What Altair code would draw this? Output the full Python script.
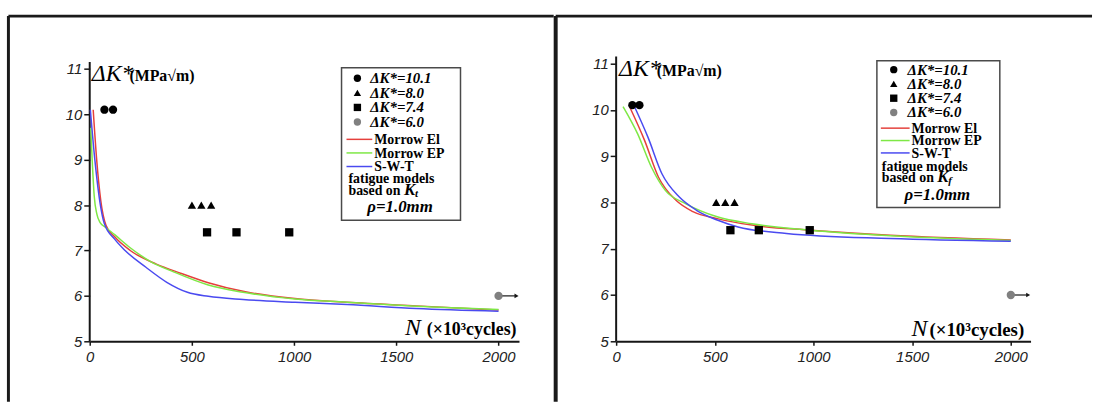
import altair as alt
import pandas as pd

# ---------------- data ----------------
N_TICKS = [0, 500, 1000, 1500, 2000]
K_TICKS = [5, 6, 7, 8, 9, 10, 11]

point_labels = ["ΔK*=10.1", "ΔK*=8.0", "ΔK*=7.4", "ΔK*=6.0"]
point_shapes = ["circle", "triangle-up", "square", "circle"]
point_colors = ["#000000", "#000000", "#000000", "#808080"]
point_levels = [10.1, 8.0, 7.4, 6.0]

model_names = ["Morrow El", "Morrow EP", "S-W-T"]
model_colors = ["#e5403c", "#7ee845", "#4a4af0"]

# left panel (models based on Kt)
L_circ_x = [72, 114]
L_tri_x = [500, 546, 594]
L_sq_x = [574, 718, 976]
L_run_x = [2000]
L_red_x = [17, 34, 54, 80, 122, 198, 326, 444, 580, 750, 1004, 1259, 1598, 2000]
L_red_y = [10.1, 9.0, 8.1, 7.55, 7.3, 7.0, 6.7, 6.5, 6.29, 6.1, 5.94, 5.86, 5.78, 5.69]
L_grn_x = [5, 12, 22, 35, 50, 80, 122, 198, 300, 410, 580, 750, 1004, 1259, 1598, 2000]
L_grn_y = [9.7, 9.0, 8.2, 7.8, 7.62, 7.5, 7.35, 7.06, 6.75, 6.53, 6.24, 6.08, 5.93, 5.86, 5.77, 5.70]
L_blu_x = [3, 25, 54, 71, 122, 173, 275, 377, 478, 580, 750, 1004, 1259, 1598, 2000]
L_blu_y = [10.1, 9.0, 7.95, 7.6, 7.25, 7.0, 6.63, 6.3, 6.08, 5.99, 5.92, 5.86, 5.81, 5.72, 5.66]

# right panel (models based on Kf)
R_circ_x = [82, 118]
R_tri_x = [507, 553, 600]
R_sq_x = [579, 723, 981]
R_run_x = [2000]
R_red_x = [70, 144, 214, 302, 389, 512, 688, 986, 1389, 2000]
R_red_y = [10.05, 9.34, 8.55, 8.05, 7.8, 7.65, 7.51, 7.4, 7.29, 7.19]
R_grn_x = [35, 109, 179, 249, 354, 512, 688, 986, 1389, 2000]
R_grn_y = [10.07, 9.48, 8.76, 8.26, 7.97, 7.69, 7.54, 7.4, 7.28, 7.18]
R_blu_x = [95, 161, 232, 319, 407, 512, 618, 863, 1389, 2000]
R_blu_y = [10.05, 9.41, 8.62, 8.12, 7.83, 7.62, 7.47, 7.33, 7.22, 7.16]

RUNOUT_END = 2088
AXIS_TOP = 11.15

SERIF = "Liberation Serif"
SANS = "Liberation Sans"
INK = "#161616"


def points_df(cx, tx, sx, rx):
    rows = []
    for lab, lev, xs in zip(point_labels, point_levels, [cx, tx, sx, rx]):
        for v in xs:
            rows.append({"N": v, "K": lev, "label": lab})
    return pd.DataFrame(rows)


def lines_df(series):
    rows = []
    for name, (xs, ys) in zip(model_names, series):
        for a, b in zip(xs, ys):
            rows.append({"N": a, "K": b, "model": name})
    return pd.DataFrame(rows)


dummy = pd.DataFrame({"d": [0]})


def txt(t):
    return alt.Chart(dummy).mark_text(
        text=t["text"], align=t.get("align", "left"), baseline=t.get("baseline", "alphabetic"),
        font=t.get("font", SERIF), fontSize=t["size"], fontStyle=t.get("style", "normal"),
        fontWeight=t.get("weight", "bold"), color="black").encode(
        x=alt.value(t["x"]), y=alt.value(t["y"]))


def panel(pts, lns, ytop, width, height, lay):
    xs = alt.Scale(domain=[0, 2100], nice=False, zero=False)
    ys = alt.Scale(domain=[5, ytop], nice=False, zero=False)
    common = dict(title=None, grid=False, labelFlush=False, labelFont=SANS, labelFontStyle="italic",
                  labelFontSize=15, labelColor="#222", domainColor=INK, domainWidth=2,
                  tickColor=INK, tickWidth=1.5, format="d")
    xax = alt.Axis(values=N_TICKS, tickSize=4, labelPadding=4, domain=True, **common)
    yax = alt.Axis(values=K_TICKS, tickSize=6, labelPadding=2, domain=False, **common)

    def X(f):
        return alt.X(f, type="quantitative", scale=xs, axis=xax)

    def Y(f):
        return alt.Y(f, type="quantitative", scale=ys, axis=yax)

    layers = []
    # frame lines of the figure
    for r in lay["frame"]:
        enc = {k: alt.value(v) for k, v in r["enc"].items()}
        layers.append(alt.Chart(dummy).mark_rule(color="#1a1a1a", strokeWidth=r["w"]).encode(**enc))

    # legend box
    bx = lay["box"]
    layers.append(alt.Chart(dummy).mark_rect(fill="white", stroke="#4a4a4a", strokeWidth=1.5).encode(
        x=alt.value(bx[0]), x2=alt.value(bx[1]), y=alt.value(bx[2]), y2=alt.value(bx[3])))

    # y axis line
    yline = pd.DataFrame({"N": [0], "K0": [5], "K1": [AXIS_TOP]})
    layers.append(alt.Chart(yline).mark_rule(color=INK, strokeWidth=2).encode(
        x=X("N"), y=Y("K0"), y2=alt.Y2("K1")))

    # model curves
    layers.append(alt.Chart(lns).mark_line(strokeWidth=1.5, interpolate="monotone").encode(
        x=X("N"), y=Y("K"),
        stroke=alt.Stroke("model:N", scale=alt.Scale(domain=model_names, range=model_colors),
                          legend=None),
        order=alt.Order("N:Q")))

    # run-out arrow
    run = pd.DataFrame({"N": [2000], "N2": [RUNOUT_END], "K": [6.0]})
    layers.append(alt.Chart(run).mark_rule(color=INK, strokeWidth=1.2).encode(
        x=X("N"), x2=alt.X2("N2"), y=Y("K")))
    layers.append(alt.Chart(run).mark_point(shape="triangle-right", filled=True, color=INK, size=22,
                                            opacity=1).encode(x=X("N2"), y=Y("K")))

    # experimental points
    layers.append(alt.Chart(pts).mark_point(filled=True, size=70, opacity=1).encode(
        x=X("N"), y=Y("K"),
        shape=alt.Shape("label:N", scale=alt.Scale(domain=point_labels, range=point_shapes), legend=None),
        fill=alt.Fill("label:N", scale=alt.Scale(domain=point_labels, range=point_colors), legend=None)))

    # legend entries (inside the box)
    lg = lay["leg"]
    for lab, shp, col, py in zip(point_labels, point_shapes, point_colors, lg["prow"]):
        layers.append(alt.Chart(dummy).mark_point(shape=shp, filled=True, color=col, size=55,
                                                  opacity=1).encode(
            x=alt.value(lg["psym"]), y=alt.value(py)))
        layers.append(txt({"text": lab, "x": lg["plab"], "y": py, "size": 15, "style": "italic",
                           "baseline": "middle"}))
    for lab, col, py in zip(model_names, model_colors, lg["lrow"]):
        layers.append(alt.Chart(dummy).mark_rule(color=col, strokeWidth=1.5).encode(
            x=alt.value(lg["lx"][0]), x2=alt.value(lg["lx"][1]), y=alt.value(py)))
        layers.append(txt({"text": lab, "x": lg["llab"], "y": py + 1, "size": 14,
                           "baseline": "middle"}))

    # texts
    for t in lay["texts"]:
        layers.append(txt(t))

    return alt.layer(*layers).properties(width=width, height=height)


left_lay = {
    "frame": [
        {"enc": {"x": -82, "y": -41, "y2": 348}, "w": 3},
        {"enc": {"x": -82, "x2": 468, "y": -41}, "w": 3},
    ],
    "box": [254, 374, 11, 165],
    "leg": {"psym": 270, "plab": 283, "prow": [21.7, 36.4, 51.1, 65.8],
            "lx": [259, 285], "llab": 287, "lrow": [83.3, 97.0, 110.7]},
    "texts": [
        {"text": "ΔK*", "x": 2, "y": 24, "size": 24, "style": "italic", "weight": "normal"},
        {"text": "(MPa√m)", "x": 40, "y": 24, "size": 16},
        {"text": "N", "x": 318, "y": 281, "size": 24, "style": "italic", "weight": "normal"},
        {"text": "(×10³cycles)", "x": 340, "y": 281, "size": 18},
        {"text": "fatigue models", "x": 261, "y": 123, "size": 14, "baseline": "middle"},
        {"text": "based on", "x": 261, "y": 135, "size": 14, "baseline": "middle"},
        {"text": "K", "x": 317, "y": 134, "size": 17, "style": "italic", "baseline": "middle"},
        {"text": "t", "x": 328, "y": 138, "size": 11, "style": "italic", "baseline": "middle"},
        {"text": "ρ=1.0mm", "x": 313, "y": 152, "size": 17, "style": "italic", "align": "center",
         "baseline": "middle"},
    ],
}

right_lay = {
    "frame": [
        {"enc": {"x": -61, "y": -41, "y2": 348}, "w": 4},
        {"enc": {"x": -61, "x2": 480, "y": -41}, "w": 3},
    ],
    "box": [263, 387, 4, 152],
    "leg": {"psym": 280, "plab": 294, "prow": [13.0, 27.4, 41.8, 56.2],
            "lx": [267, 296], "llab": 298, "lrow": [72.0, 84.5, 97.0]},
    "texts": [
        {"text": "ΔK*", "x": 3, "y": 19, "size": 24, "style": "italic", "weight": "normal"},
        {"text": "(MPa√m)", "x": 41, "y": 19, "size": 16},
        {"text": "N", "x": 298, "y": 282, "size": 24, "style": "italic", "weight": "normal"},
        {"text": "(×10³cycles)", "x": 316, "y": 282, "size": 19},
        {"text": "fatigue models", "x": 268, "y": 111, "size": 14, "baseline": "middle"},
        {"text": "based on", "x": 268, "y": 122, "size": 14, "baseline": "middle"},
        {"text": "K", "x": 324, "y": 121, "size": 17, "style": "italic", "baseline": "middle"},
        {"text": "f", "x": 335, "y": 125, "size": 11, "style": "italic", "baseline": "middle"},
        {"text": "ρ=1.0mm", "x": 324, "y": 139, "size": 17, "style": "italic", "align": "center",
         "baseline": "middle"},
    ],
}

left = panel(points_df(L_circ_x, L_tri_x, L_sq_x, L_run_x),
             lines_df([(L_red_x, L_red_y), (L_grn_x, L_grn_y), (L_blu_x, L_blu_y)]),
             11.266, 433, 287, left_lay)
right = panel(points_df(R_circ_x, R_tri_x, R_sq_x, R_run_x),
              lines_df([(R_red_x, R_red_y), (R_grn_x, R_grn_y), (R_blu_x, R_blu_y)]),
              11.146, 418, 287, right_lay)

chart = alt.hconcat(left, right, spacing=-2).resolve_scale(
    x="independent", y="independent", fill="independent", shape="independent", stroke="independent"
).properties(
    padding={"left": 6.5, "top": 12.5, "right": 0, "bottom": 0}, background="white"
).configure_view(strokeWidth=0)

chart.save("out.html", embed_options={"renderer": "svg", "actions": False})
